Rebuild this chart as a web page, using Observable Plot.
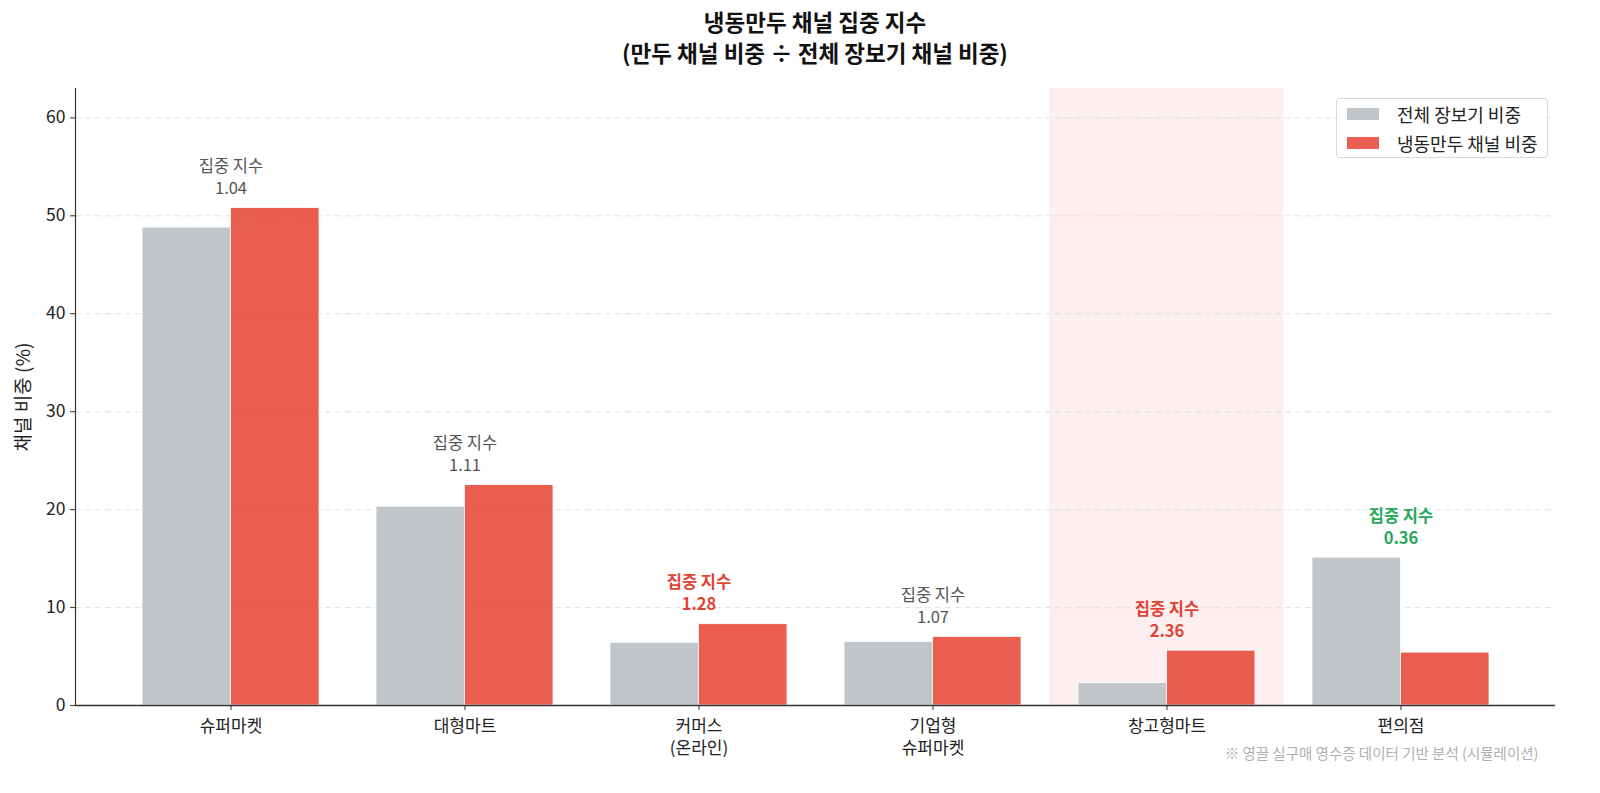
<!DOCTYPE html>
<html>
<head>
<meta charset="utf-8">
<script src="https://cdn.jsdelivr.net/npm/d3@7"></script>
<script src="https://cdn.jsdelivr.net/npm/@observablehq/plot@0.6"></script>
<style>
  html, body { margin: 0; padding: 0; background: #fff; width: 1600px; height: 793px; overflow: hidden; }
  body { position: relative; font-family: "Noto Sans CJK KR", "Noto Sans", sans-serif; }
  #title { height: 70px; box-sizing: border-box; padding-top: 6px; padding-left: 30px; width: 1600px;
           text-align: center; font-size: 22.5px; font-weight: 700; line-height: 31px; color: #111; }
  #legend { position: absolute; left: 1336px; top: 98px; width: 212px; height: 60px;
            border: 1px solid #d8d8d8; border-radius: 4px; background: rgba(255,255,255,0.92);
            box-sizing: border-box; padding: 0 0 0 10px; font-size: 18px; color: #222; }
  .row { display: flex; align-items: center; height: 29px; }
  .sw { width: 32px; height: 12px; margin-right: 18px; }
  #chart { width: 1600px; height: 723px; overflow: hidden; }
  #chart svg { display: block; max-width: none; }
</style>
</head>
<body>
<div id="title">냉동만두 채널 집중 지수<br>(만두 채널 비중 ÷ 전체 장보기 채널 비중)</div>
<div id="chart"></div>
<div id="legend"></div>
<script>
const categories = ["슈퍼마켓", "대형마트", "커머스\n(온라인)", "기업형\n슈퍼마켓", "창고형마트", "편의점"];
const overallShare = [48.8, 20.3, 6.4, 6.5, 2.3, 15.1];
const dumplingShare = [50.8, 22.5, 8.3, 7.0, 5.6, 5.4];
const concentrationIndex = [1.04, 1.11, 1.28, 1.07, 2.36, 0.36];
const yTicks = [0, 10, 20, 30, 40, 50, 60];
const gridTicks = [10, 20, 30, 40, 50, 60];
const highlightCategory = "창고형마트";
const seriesNames = ["전체 장보기 비중", "냉동만두 채널 비중"];
const seriesColors = ["#bdc3c7", "#e74c3c"];
const yLabel = "채널 비중 (%)";
const yMax = 63;
const footnote = "※ 영끌 실구매 영수증 데이터 기반 분석 (시뮬레이션)";

const rows = categories.map((c, i) => ({
  category: c,
  overall: overallShare[i],
  dumpling: dumplingShare[i],
  index: concentrationIndex[i],
  top: Math.max(overallShare[i], dumplingShare[i])
}));

const W = 1600, H = 723;
const mL = 75, mR = 45;
const pInner = 0.244, pOuter = 0.284;
const n = categories.length;
const step = (W - mL - mR) / (n - pInner + 2 * pOuter);
const bw = step * (1 - pInner);
const half = bw / 2;
const gap = (step - bw) / 2;

const label = d => `집중 지수\n${d.index.toFixed(2)}`;
const highRows = rows.filter(d => d.index >= 1.2);
const lowRows = rows.filter(d => d.index < 0.5);
const normRows = rows.filter(d => d.index >= 0.5 && d.index < 1.2);
const annFont = 16.5, annDy = -14, annLH = 1.33;

const chart = Plot.plot({
  width: W,
  height: H,
  marginLeft: mL,
  marginRight: mR,
  marginTop: 18,
  marginBottom: 88,
  style: { fontFamily: "Noto Sans CJK KR, Noto Sans, sans-serif", fontSize: "17.5px", color: "#222", background: "#fff" },
  x: { domain: categories, paddingInner: pInner, paddingOuter: pOuter, align: 0.5, label: null },
  y: { domain: [0, yMax], label: null },
  marks: [
    Plot.barY([highlightCategory], { x: d => d, y1: 0, y2: yMax, fill: "#fdecec", fillOpacity: 0.85, insetLeft: -gap, insetRight: -gap }),
    Plot.ruleY(gridTicks, { stroke: "#dcdcdc", strokeDasharray: "6,4", strokeOpacity: 0.8 }),
    Plot.barY(rows, { x: "category", y: "overall", fill: seriesColors[0], fillOpacity: 0.95, insetRight: half, stroke: "#fff", strokeWidth: 0.8 }),
    Plot.barY(rows, { x: "category", y: "dumpling", fill: seriesColors[1], fillOpacity: 0.9, insetLeft: half, stroke: "#fff", strokeWidth: 0.8 }),
    Plot.text(normRows, { x: "category", y: "top", text: label, lineAnchor: "bottom", dy: annDy, fontSize: annFont, fill: "#555", lineHeight: annLH }),
    Plot.text(highRows, { x: "category", y: "top", text: label, lineAnchor: "bottom", dy: annDy, fontSize: annFont, fill: "#e04434", fontWeight: 700, lineHeight: annLH }),
    Plot.text(lowRows, { x: "category", y: "top", text: label, lineAnchor: "bottom", dy: annDy, fontSize: annFont, fill: "#27a85a", fontWeight: 700, lineHeight: annLH }),
    Plot.axisY({ ticks: yTicks, tickSize: 5, tickPadding: 5, fontSize: 17.5, label: null, stroke: "#333", fill: "#222" }),
    Plot.text([yLabel], { frameAnchor: "left", textAnchor: "middle", dx: -52, rotate: -90, fontSize: 19, fill: "#222" }),
    Plot.axisX({ tickSize: 5, tickPadding: 6, fontSize: 17, lineHeight: 1.3, stroke: "#333", fill: "#222", label: null }),
    Plot.frame({ anchor: "left", stroke: "#333", strokeWidth: 1.2 }),
    Plot.ruleY([0], { stroke: "#333", strokeWidth: 1.3 }),
    Plot.text([footnote], { frameAnchor: "bottom-right", dy: 53, dx: -17, fontSize: 14.5, fill: "#b0b0b0" })
  ]
});
document.getElementById("chart").appendChild(chart);

const legend = document.getElementById("legend");
seriesNames.forEach((name, i) => {
  const row = document.createElement("div");
  row.className = "row";
  const sw = document.createElement("div");
  sw.className = "sw";
  sw.style.background = seriesColors[i];
  sw.style.opacity = i === 0 ? 0.95 : 0.9;
  const t = document.createElement("span");
  t.textContent = name;
  row.appendChild(sw);
  row.appendChild(t);
  legend.appendChild(row);
});
</script>
</body>
</html>
